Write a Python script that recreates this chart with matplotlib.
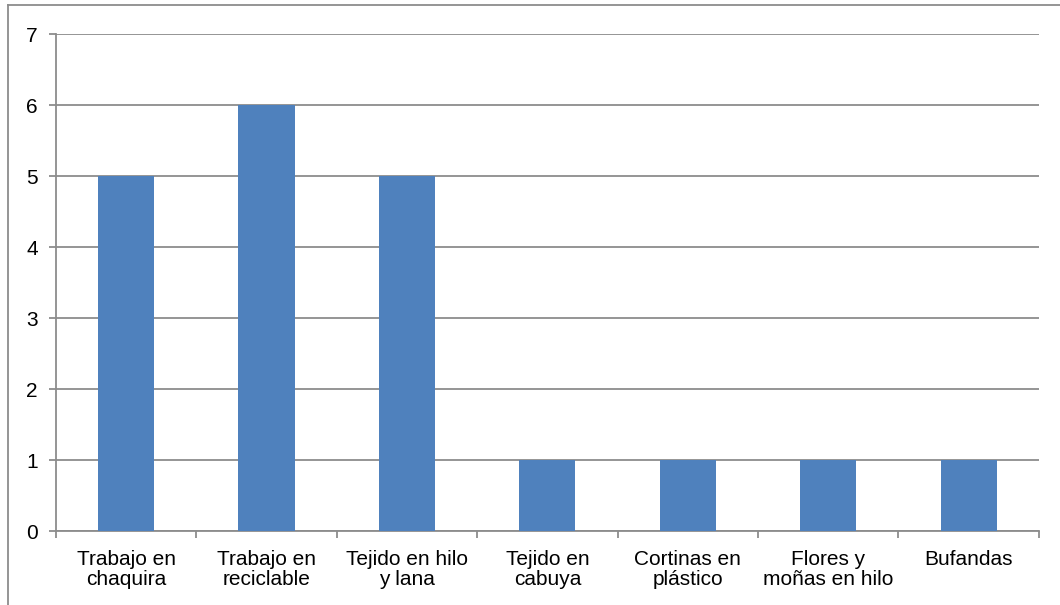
import matplotlib.pyplot as plt
import numpy as np
from matplotlib.lines import Line2D

# Data
categorias = ['Trabajo en\nchaquira', 'Trabajo en\nreciclable', 'Tejido en hilo\ny lana',
              'Tejido en\ncabuya', 'Cortinas en\nplástico', 'Flores y\nmoñas en hilo', 'Bufandas']
valores = [5, 6, 5, 1, 1, 1, 1]
y_ticks = [0, 1, 2, 3, 4, 5, 6, 7]

plt.rcParams['font.family'] = ['Liberation Sans', 'DejaVu Sans']

fig = plt.figure(figsize=(10.6, 6.05), dpi=100)
ax = fig.add_axes([0.0528, 0.1223, 0.9272, 0.8215])

gris = '#8c8c8c'
x = np.arange(len(categorias))
ax.bar(x, valores, width=0.4, color='#4f81bd', zorder=3)

ax.set_xlim(-0.5, len(categorias) - 0.5)
ax.set_ylim(0, 7)
ax.set_yticks(y_ticks)
ax.yaxis.grid(True, color=gris, linewidth=1.3, zorder=0)

# x ticks at category boundaries, labels centred
ax.set_xticks(np.arange(-0.5, len(categorias)), minor=False)
ax.set_xticklabels([])
ax.set_xticks(x, minor=True)
ax.set_xticklabels(categorias, minor=True, fontsize=15, linespacing=1.05)
ax.tick_params(axis='x', which='minor', length=0, pad=14)
ax.tick_params(axis='x', which='major', length=5, width=1.3, color=gris)
ax.tick_params(axis='y', length=5, width=1.3, color=gris, labelsize=15, pad=8)

for s in ['top', 'right']:
    ax.spines[s].set_visible(False)
for s in ['left', 'bottom']:
    ax.spines[s].set_color(gris)
    ax.spines[s].set_linewidth(1.3)

# outer chart border (top and left visible)
fig.add_artist(Line2D([8 / 1060, 1], [1 - 5 / 605, 1 - 5 / 605], transform=fig.transFigure,
                      color=gris, linewidth=1.3))
fig.add_artist(Line2D([8 / 1060, 8 / 1060], [0, 1 - 5 / 605], transform=fig.transFigure,
                      color=gris, linewidth=1.3))

fig.savefig('out.png', dpi=100)
